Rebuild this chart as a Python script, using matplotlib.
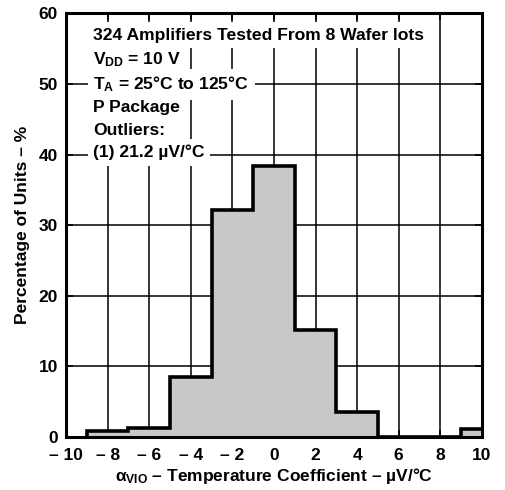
import numpy as np
import matplotlib.pyplot as plt

plt.rcParams['font.family'] = ['Liberation Sans', 'DejaVu Sans']
plt.rcParams['font.weight'] = 'bold'
plt.rcParams['axes.labelweight'] = 'bold'
plt.rcParams['mathtext.fontset'] = 'custom'
plt.rcParams['mathtext.rm'] = 'Liberation Sans:bold'
plt.rcParams['mathtext.bf'] = 'Liberation Sans:bold'
plt.rcParams['mathtext.it'] = 'Liberation Sans:bold'

# histogram bins (uV/C) and percentage of units
bin_edges = [-9, -7, -5, -3, -1, 1, 3, 5, 7, 9, 11]
percent = [0.9, 1.3, 8.5, 32.1, 38.4, 15.2, 3.5, 0, 0, 1.2]

xticks = [-10, -8, -6, -4, -2, 0, 2, 4, 6, 8, 10]
xtick_labels = ['\u2013 10', '\u2013 8', '\u2013 6', '\u2013 4', '\u2013 2',
                '0', '2', '4', '6', '8', '10']
yticks = [0, 10, 20, 30, 40, 50, 60]

notes = [
    '324 Amplifiers Tested From 8 Wafer lots',
    r'$\mathrm{V_{DD}}$ = 10 V',
    r'$\mathrm{T_{A}}$ = 25°C to 125°C',
    'P Package',
    'Outliers:',
    '(1) 21.2 \u00b5V/°C',
]

fig = plt.figure(figsize=(5.05, 4.9), dpi=100)
ax = fig.add_axes([0.131, 0.108, 0.823, 0.865])

ax.stairs(percent, bin_edges, fill=True, color='#c8c8c8', zorder=2)
ax.stairs(percent, bin_edges, color='black', linewidth=2.6, zorder=4)

ax.set_xlim(-10, 10)
ax.set_ylim(0, 60)
ax.set_xticks(xticks)
ax.set_xticklabels(xtick_labels, fontweight='bold')
ax.set_yticks(yticks)
ax.set_yticklabels([str(v) for v in yticks], fontweight='bold')
ax.grid(True, color='black', linewidth=1.1, zorder=1)
ax.set_axisbelow(True)
ax.tick_params(direction='in', length=5, width=1.2, top=True, right=True,
               labelsize=12.5)
ax.tick_params(axis='x', pad=8)
ax.tick_params(axis='y', pad=6)
for s in ax.spines.values():
    s.set_linewidth(2.2)
    s.set_zorder(5)

ys = [56.9, 53.4, 49.9, 46.6, 43.4, 40.3]
for t, y in zip(notes, ys):
    ax.text(-8.7, y, t, fontsize=12.6, fontweight='bold', va='center', ha='left',
            zorder=3, bbox=dict(facecolor='white', edgecolor='none', pad=4))

ax.set_ylabel('Percentage of Units \u2013 %', fontsize=12.5, labelpad=6)
ax.set_xlabel('$\\alpha_{\\mathrm{VIO}}$ \u2013 Temperature Coefficient \u2013 \u00b5V/°C',
              fontsize=12.5, labelpad=2)

fig.savefig('out.png', dpi=100)
